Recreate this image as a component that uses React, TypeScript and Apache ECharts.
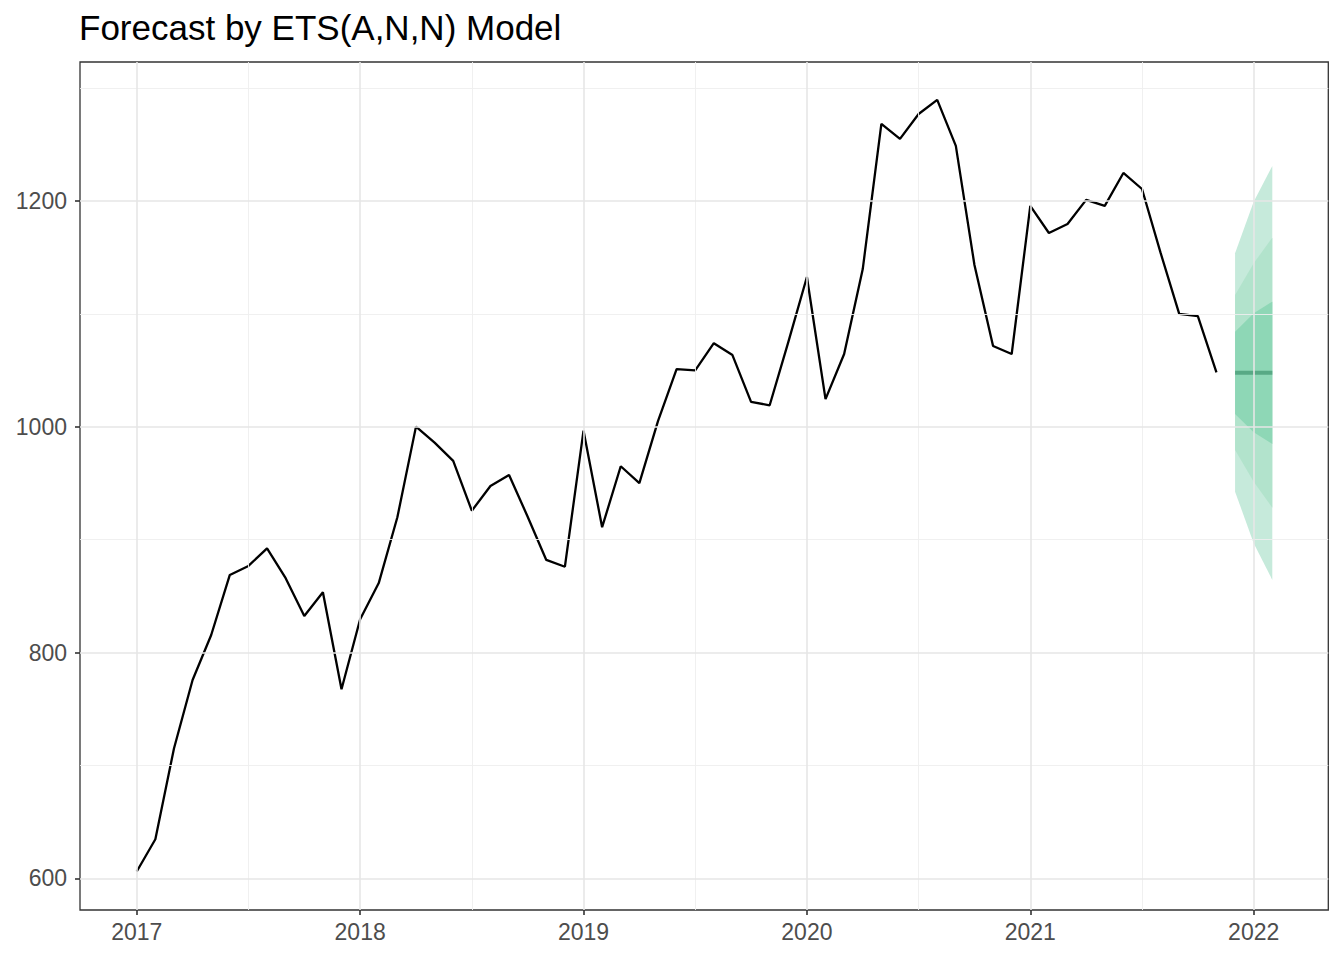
import React, { useEffect, useRef } from "react";
import * as echarts from "echarts";

// Observed monthly series (Jan 2017 – Nov 2021)
const obsMonths = [
  "2017-01", "2017-02", "2017-03", "2017-04", "2017-05", "2017-06", "2017-07", "2017-08", "2017-09", "2017-10", "2017-11", "2017-12",
  "2018-01", "2018-02", "2018-03", "2018-04", "2018-05", "2018-06", "2018-07", "2018-08", "2018-09", "2018-10", "2018-11", "2018-12",
  "2019-01", "2019-02", "2019-03", "2019-04", "2019-05", "2019-06", "2019-07", "2019-08", "2019-09", "2019-10", "2019-11", "2019-12",
  "2020-01", "2020-02", "2020-03", "2020-04", "2020-05", "2020-06", "2020-07", "2020-08", "2020-09", "2020-10", "2020-11", "2020-12",
  "2021-01", "2021-02", "2021-03", "2021-04", "2021-05", "2021-06", "2021-07", "2021-08", "2021-09", "2021-10", "2021-11",
];
const obsValues = [
  606, 634.6, 715, 775.7, 815.5, 868.7, 876.7, 892.3, 865.8, 832.4, 853.4, 767.4,
  829.4, 861.5, 919.8, 1000.1, 985.9, 969.7, 925.6, 947.5, 957.3, 920.3, 882, 876,
  996.5, 911, 965, 950, 1005, 1051, 1050, 1074, 1063.5, 1022, 1019, 1075,
  1132.6, 1024.5, 1064.4, 1139.7, 1268.3, 1255, 1277, 1289.5, 1248.8, 1143.3, 1071.5, 1064.4,
  1195.6, 1171.6, 1179.6, 1201, 1195.6, 1224.8, 1210.6, 1154, 1100, 1098, 1048.2,
];

// Forecast (Dec 2021 – Feb 2022)
const fcMonths = ["2021-12", "2022-01", "2022-02"];
const fcMean = [1047.8, 1047.8, 1047.8];
const lo95 = [942.5, 896.8, 864.3];
const hi95 = [1153.7, 1199.4, 1231];
const lo80 = [979.4, 951.3, 928.3];
const hi80 = [1116.7, 1144.8, 1167.5];
const lo50 = [1011.3, 995.1, 984.7];
const hi50 = [1084.2, 1100.5, 1110.8];

// Axis breaks
const xMajor = [2017, 2018, 2019, 2020, 2021, 2022];
const xMinor = [2017.5, 2018.5, 2019.5, 2020.5, 2021.5];
const yMajor = [600, 800, 1000, 1200];
const yMinor = [700, 900, 1100, 1300];

const TITLE = "Forecast by ETS(A,N,N) Model";
const FONT = "'Liberation Sans', Arial, Helvetica, sans-serif";

const toYear = (m: string) => {
  const [y, mo] = m.split("-").map(Number);
  return y + (mo - 1) / 12;
};

export default function App() {
  const ref = useRef<HTMLDivElement>(null);

  useEffect(() => {
    if (!ref.current) return;
    const chart = echarts.init(ref.current, undefined, { renderer: "svg" });

    const obsX = obsMonths.map(toYear);
    const fcX = fcMonths.map(toYear);

    const gridMajor = "#E6E6E6";
    const gridMinor = "#EEEEEE";
    const majorW = 1.6;
    const minorW = 0.9;

    const markData: any[] = [
      ...xMinor.map((v) => ({ xAxis: v, lineStyle: { color: gridMinor, width: minorW, type: "solid" } })),
      ...yMinor.map((v) => ({ yAxis: v, lineStyle: { color: gridMinor, width: minorW, type: "solid" } })),
      ...xMajor.map((v) => ({ xAxis: v, lineStyle: { color: gridMajor, width: majorW, type: "solid" } })),
      ...yMajor.map((v) => ({ yAxis: v, lineStyle: { color: gridMajor, width: majorW, type: "solid" } })),
    ];

    const band = (name: string, lo: number[], hi: number[], color: string) => ({
      type: "custom",
      name,
      data: [[fcX[0], lo[0]]],
      silent: true,
      z: 2,
      renderItem: (_params: any, api: any) => {
        const upper = fcX.map((x, i) => api.coord([x, hi[i]]));
        const lower = fcX.map((x, i) => api.coord([x, lo[i]])).reverse();
        return {
          type: "polygon",
          shape: { points: [...upper, ...lower] },
          style: { fill: color, stroke: "none" },
        };
      },
    });

    const axisText = { color: "#4D4D4D", fontSize: 23, fontFamily: FONT };

    chart.setOption({
      animation: false,
      backgroundColor: "#ffffff",
      title: {
        text: TITLE,
        left: 79,
        top: 10,
        padding: 0,
        textStyle: { fontSize: 35, fontWeight: "normal", color: "#000000", fontFamily: FONT },
      },
      grid: {
        left: 80,
        top: 62,
        width: 1248.3,
        height: 848,
        show: true,
        borderColor: "#333333",
        borderWidth: 1.3,
        backgroundColor: "transparent",
        containLabel: false,
      },
      xAxis: {
        type: "value",
        min: 2016.746,
        max: 2022.334,
        splitNumber: 5,
        axisLine: { show: false },
        axisTick: { show: true, length: 5, lineStyle: { color: "#333333", width: 1.6 } },
        splitLine: { show: false },
        axisLabel: {
          ...axisText,
          margin: 10,
          showMinLabel: false,
          showMaxLabel: false,
          formatter: (v: number) => (Math.abs(v - Math.round(v)) < 1e-6 ? String(Math.round(v)) : ""),
        },
      },
      yAxis: {
        type: "value",
        min: 571.9,
        max: 1323.1,
        splitNumber: 4,
        axisLine: { show: false },
        axisTick: { show: true, length: 5, lineStyle: { color: "#333333", width: 1.6 } },
        splitLine: { show: false },
        axisLabel: {
          ...axisText,
          margin: 13,
          showMinLabel: false,
          showMaxLabel: false,
          formatter: (v: number) => (Math.abs(v / 200 - Math.round(v / 200)) < 1e-6 ? String(Math.round(v)) : ""),
        },
      },
      series: [
        {
          type: "line",
          name: "grid",
          data: [],
          silent: true,
          z: 1,
          markLine: {
            silent: true,
            symbol: ["none", "none"],
            label: { show: false },
            animation: false,
            data: markData,
          },
        },
        band("b95", lo95, hi95, "#c6eadb"),
        band("b80", lo80, hi80, "#b2e3cc"),
        band("b50", lo50, hi50, "#8ed7b6"),
        {
          type: "line",
          name: "mean",
          data: fcX.map((x, i) => [x, fcMean[i]]),
          symbol: "none",
          showSymbol: false,
          lineStyle: { color: "#58a985", width: 4 },
          silent: true,
          z: 3,
        },
        {
          type: "line",
          name: "observed",
          data: obsX.map((x, i) => [x, obsValues[i]]),
          symbol: "none",
          showSymbol: false,
          lineStyle: { color: "#000000", width: 2.3 },
          silent: true,
          z: 4,
        },
      ],
    });

    return () => chart.dispose();
  }, []);

  return (
    <div
      ref={ref}
      style={{ position: "fixed", left: 0, top: 0, width: 1344, height: 960, background: "#ffffff" }}
    />
  );
}
